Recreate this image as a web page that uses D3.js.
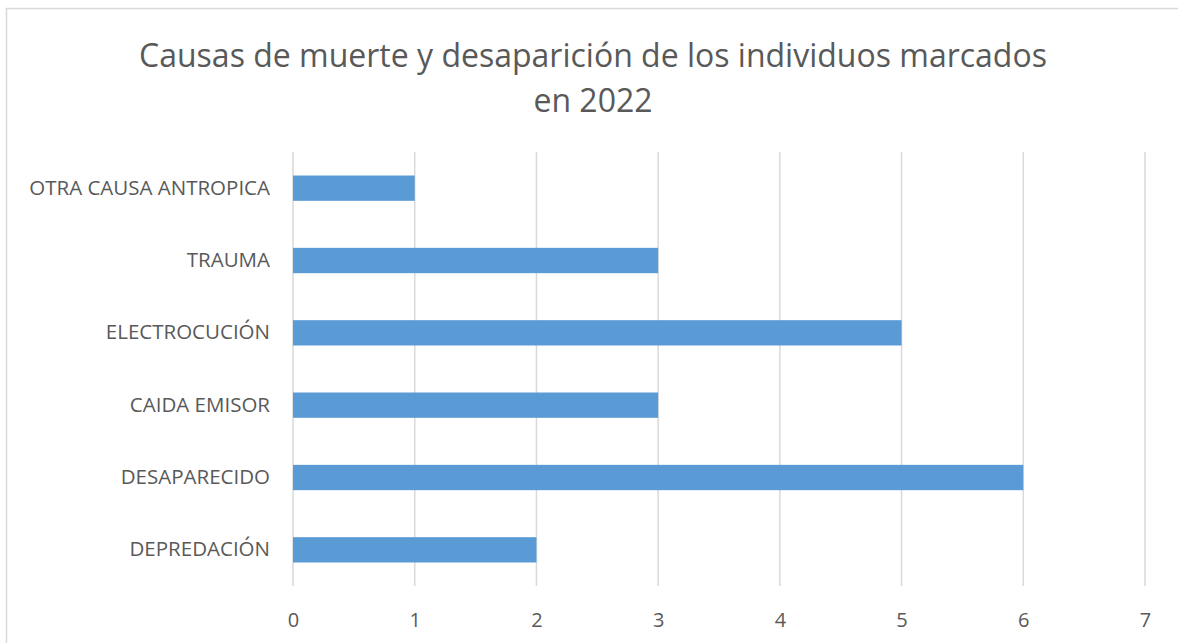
<!DOCTYPE html>
<html>
<head>
<meta charset="utf-8">
<script src="https://cdn.jsdelivr.net/npm/d3@7"></script>
<style>
  body { margin: 0; background: #fff; }
  text { font-family: "Open Sans", sans-serif; fill: #595959; }
</style>
</head>
<body>
<svg id="chart"></svg>
<script>
const categories = ["DEPREDACIÓN", "DESAPARECIDO", "CAIDA EMISOR", "ELECTROCUCIÓN", "TRAUMA", "OTRA CAUSA ANTROPICA"];
const values = [2, 6, 3, 5, 3, 1];
const xTicks = [0, 1, 2, 3, 4, 5, 6, 7];
const titleLines = ["Causas de muerte y desaparición de los individuos marcados", "en 2022"];

const W = 1178, H = 643;
const margin = {top: 152, right: 33, bottom: 57, left: 293};
const width = W - margin.left - margin.right,
    height = H - margin.top - margin.bottom;

const svg = d3.select("#chart").attr("width", W).attr("height", H);

// chart frame
svg.append("rect")
    .attr("x", 6.5).attr("y", 8.5)
    .attr("width", W + 10).attr("height", H + 10)
    .attr("fill", "none").attr("stroke", "#d9d9d9").attr("stroke-width", 1.5);

// title
svg.append("g").selectAll("text")
    .data(titleLines)
    .join("text")
    .attr("x", 593)
    .attr("y", (d, i) => 67 + i * 45)
    .attr("text-anchor", "middle")
    .style("font-size", "32px")
    .text(d => d);

const g = svg.append("g").attr("transform", `translate(${margin.left},${margin.top})`);

const x = d3.scaleLinear().domain([0, 7]).range([0, width]);
const y = d3.scaleBand().domain(categories).range([height, 0]).paddingInner(0.65).paddingOuter(0.325);

// gridlines
g.append("g")
    .selectAll("line")
    .data(xTicks)
    .join("line")
    .attr("x1", d => x(d)).attr("x2", d => x(d))
    .attr("y1", 0).attr("y2", height)
    .attr("stroke", "#d9d9d9").attr("stroke-width", 1.5);

// bars
g.append("g")
    .selectAll("rect")
    .data(categories)
    .join("rect")
    .attr("x", x(0))
    .attr("y", d => y(d))
    .attr("width", (d, i) => x(values[i]) - x(0))
    .attr("height", y.bandwidth())
    .attr("fill", "#5b9bd5");

// x axis labels
const xAxis = g.append("g")
    .attr("transform", `translate(0,${height})`)
    .call(d3.axisBottom(x).tickValues(xTicks).tickFormat(d3.format("d")).tickSize(0).tickPadding(27));
xAxis.select(".domain").remove();
xAxis.selectAll("text").style("font-size", "20px").attr("fill", "#595959");

// y axis labels
const yAxis = g.append("g")
    .call(d3.axisLeft(y).tickSize(0).tickPadding(23));
yAxis.select(".domain").remove();
yAxis.selectAll("text").style("font-size", "20.5px").attr("fill", "#595959");
</script>
</body>
</html>
